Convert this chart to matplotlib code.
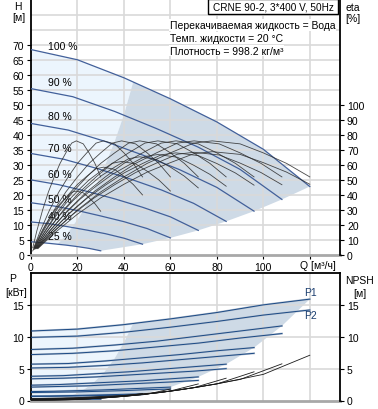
import matplotlib
matplotlib.use('Agg')
import matplotlib.pyplot as plt
from matplotlib.patches import Polygon, Rectangle

plt.rcParams['font.family'] = ['Liberation Sans', 'DejaVu Sans']
plt.rcParams['font.size'] = 7.5

# speed curves, 100 % down to 25 %
speed_labels = ['100 %', '90 %', '80 %', '70 %', '60 %', '50 %', '40 %', '25 %']
label_h = [69.7, 57.5, 46.2, 35.5, 27.0, 18.6, 12.9, 6.2]

q_curve = [
    [0, 20, 40, 60, 80, 100, 120],
    [0, 18, 36, 54, 72, 90, 108],
    [0, 16, 32, 48, 64, 80, 96],
    [0, 14, 28, 42, 56, 70, 84],
    [0, 12, 24, 36, 48, 60, 72],
    [0, 10, 20, 30, 40, 50, 60],
    [0, 8, 16, 24, 32, 40, 48],
    [0, 5, 10, 15, 20, 25, 30],
]
h_curve = [
    [68.4, 65.0, 59.0, 52.0, 44.3, 35.2, 22.8],
    [55.4, 52.7, 47.8, 42.1, 35.9, 28.5, 18.5],
    [43.8, 41.6, 37.8, 33.3, 28.4, 22.5, 14.6],
    [33.8, 31.9, 28.9, 25.5, 21.7, 17.2, 11.2],
    [25.0, 23.4, 21.2, 18.7, 15.9, 12.7, 8.2],
    [17.4, 16.3, 14.8, 13.0, 11.1, 8.8, 5.7],
    [11.0, 10.4, 9.4, 8.3, 7.1, 5.6, 3.6],
    [4.4, 4.1, 3.7, 3.3, 2.8, 2.2, 1.4],
]
p1_curve = [
    [10.9, 11.2, 11.9, 12.8, 13.8, 15.0, 15.9],
    [8.0, 8.2, 8.7, 9.3, 10.1, 10.9, 11.7],
    [5.7, 5.8, 6.2, 6.7, 7.2, 7.8, 8.3],
    [3.8, 3.9, 4.2, 4.5, 4.9, 5.3, 5.7],
    [2.4, 2.5, 2.7, 2.9, 3.1, 3.4, 3.7],
    [1.4, 1.45, 1.55, 1.65, 1.8, 1.95, 2.1],
    [0.7, 0.72, 0.77, 0.83, 0.9, 0.97, 1.05],
    [0.17, 0.18, 0.19, 0.2, 0.22, 0.24, 0.26],
]
p2_curve = [
    [9.9, 10.1, 10.7, 11.5, 12.4, 13.4, 14.2],
    [7.2, 7.4, 7.8, 8.4, 9.0, 9.8, 10.5],
    [5.1, 5.2, 5.5, 5.9, 6.4, 6.9, 7.4],
    [3.4, 3.5, 3.7, 4.0, 4.3, 4.6, 5.0],
    [2.1, 2.2, 2.3, 2.5, 2.7, 2.9, 3.15],
    [1.25, 1.3, 1.35, 1.45, 1.55, 1.7, 1.8],
    [0.63, 0.65, 0.69, 0.74, 0.8, 0.87, 0.93],
    [0.15, 0.16, 0.17, 0.18, 0.2, 0.21, 0.23],
]
npsh_curve = [
    [0.3, 0.45, 0.8, 1.45, 2.6, 4.1, 7.1],
    [0.24, 0.36, 0.65, 1.17, 2.1, 3.3, 5.75],
    [0.19, 0.29, 0.51, 0.93, 1.66, 2.6, 4.5],
    [0.15, 0.22, 0.39, 0.71, 1.27, 2.0, 3.5],
    [0.11, 0.16, 0.29, 0.52, 0.94, 1.5, 2.6],
    [0.08, 0.11, 0.2, 0.36, 0.65, 1.0, 1.8],
    [0.05, 0.07, 0.13, 0.23, 0.42, 0.66, 1.1],
    [0.02, 0.03, 0.05, 0.09, 0.16, 0.26, 0.44],
]

# efficiency curves
q_eta = [
    [3, 10, 20, 30, 40, 50, 60, 70, 78, 90, 100, 110, 120],
    [2.7, 9, 18, 27, 36, 45, 54, 63, 70.2, 81, 90, 99, 108],
    [2.4, 8, 16, 24, 32, 40, 48, 56, 62.4, 72, 80, 88, 96],
    [2.1, 7, 14, 21, 28, 35, 42, 49, 54.6, 63, 70, 77, 84],
    [1.8, 6, 12, 18, 24, 30, 36, 42, 46.8, 54, 60, 66, 72],
    [1.5, 5, 10, 15, 20, 25, 30, 35, 39, 45, 50, 55, 60],
    [1.2, 4, 8, 12, 16, 20, 24, 28, 31.2, 36, 40, 44, 48],
    [0.75, 2.5, 5, 7.5, 10, 12.5, 15, 17.5, 19.5, 22.5, 25, 27.5, 30],
]
eta_pump = [4.8, 16, 30, 42, 52, 61, 68, 74.5, 76, 74, 68, 61, 52]
eta_total = [
    [4.3, 14.5, 27.2, 38.0, 47.1, 55.2, 61.5, 67.4, 68.8, 67.0, 61.5, 55.2, 47.1],
    [4.3, 14.4, 27.0, 37.8, 46.8, 54.9, 61.2, 67.1, 68.4, 66.6, 61.2, 54.9, 46.8],
    [4.3, 14.3, 26.9, 37.6, 46.5, 54.6, 60.9, 66.7, 68.0, 66.2, 60.9, 54.6, 46.5],
    [4.2, 14.1, 26.4, 37.0, 45.8, 53.7, 59.8, 65.6, 66.9, 65.1, 59.8, 53.7, 45.8],
    [4.1, 13.8, 25.8, 36.1, 44.7, 52.5, 58.5, 64.1, 65.4, 63.6, 58.5, 52.5, 44.7],
    [3.9, 13.1, 24.6, 34.4, 42.6, 50.0, 55.8, 61.1, 62.3, 60.7, 55.8, 50.0, 42.6],
    [3.7, 12.3, 23.1, 32.3, 40.0, 47.0, 52.4, 57.4, 58.5, 57.0, 52.4, 47.0, 40.0],
    [2.7, 9.0, 16.8, 23.5, 29.1, 34.2, 38.1, 41.7, 42.6, 41.4, 38.1, 34.2, 29.1],
]

# minimum flow limit
minflow_q = [11.5, 16, 21, 26, 31, 36, 40, 44]
minflow_h = [3.6, 7.5, 12.9, 19.7, 28.1, 37.8, 46.7, 57.6]
minflow_p = [0.2, 0.6, 1.3, 2.5, 4.2, 6.6, 9.1, 12.1]

title = 'CRNE 90-2, 3*400 V, 50Hz'
info = ['Перекачиваемая жидкость = Вода', 'Темп. жидкости = 20 °C',
        'Плотность = 998.2 кг/м³']

LINE = '#42609a'
PLINE = '#1b4a85'
DARK = '#cedae6'
LIGHT = '#ecf5fd'
GRID = '#d9d9d9'
W, H = 378, 410


def regions(cq, cy, mq, my):
    top_q, top_y = cq[0], cy[0]
    low_q, low_y = cq[-1], cy[-1]
    qmin, qcorner = mq[0], mq[-1]
    dark = [(qcorner, my[-1])]
    dark += [(q, y) for q, y in zip(top_q, top_y) if q > qcorner]
    dark += [(q[-1], y[-1]) for q, y in zip(cq[1:], cy[1:])]
    dark += [(q, y) for q, y in reversed(list(zip(low_q, low_y))) if qmin < q < low_q[-1]]
    dark += list(zip(mq, my))
    light = [(q, y) for q, y in zip(top_q, top_y) if q < qcorner]
    light += list(reversed(list(zip(mq, my))))
    light += [(q, y) for q, y in reversed(list(zip(low_q, low_y))) if q < qmin]
    return dark, light


def style(a, b):
    for s in ['top', 'bottom', 'left', 'right']:
        a.spines[s].set_visible(False)
        b.spines[s].set_visible(False)
    a.spines['left'].set_visible(True)
    a.spines['left'].set_linewidth(1.3)
    b.spines['right'].set_visible(True)
    b.spines['right'].set_linewidth(1.3)
    a.spines['bottom'].set_visible(True)
    a.spines['bottom'].set_color('#a8a8a8')
    a.spines['bottom'].set_linewidth(2)
    a.tick_params(axis='y', length=3, width=0.8, pad=2, labelsize=7.5)
    b.tick_params(axis='y', length=3, width=0.8, pad=2, labelsize=7.5)


fig = plt.figure(figsize=(W / 100, H / 100), dpi=100)

# ---- head / efficiency
ax = fig.add_axes([31 / W, 1 - 256 / H, 309 / W, 255.3 / H])
ax.set_xlim(0, 133)
ax.set_ylim(0, 85)
ax2 = ax.twinx()
ax2.set_ylim(0, 170)
style(ax, ax2)

dark, light = regions(q_curve, h_curve, minflow_q, minflow_h)
ax.add_patch(Polygon(light, closed=True, fc=LIGHT, ec='none', zorder=0.5))
ax.add_patch(Polygon(dark, closed=True, fc=DARK, ec='none', zorder=0.6))
for h in range(5, 85, 5):
    ax.axhline(h, color=GRID, lw=1.2, zorder=1)
for q in range(20, 121, 20):
    ax.axvline(q, color=GRID, lw=1.2, zorder=1)

for q, h in zip(q_curve, h_curve):
    ax.plot(q, h, color=LINE, lw=0.9, zorder=3)
for lab, y in zip(speed_labels, label_h):
    ax.text(7.3, y, lab, ha='left', va='center', fontsize=7.5, zorder=4)

for q, et in zip(q_eta, eta_total):
    ax2.plot(q, eta_pump, color='#2a2a2a', lw=0.6, alpha=0.85)
    ax2.plot(q, et, color='#2a2a2a', lw=0.6, alpha=0.85)

ax.set_yticks(range(0, 71, 5))
ax.set_xticks(range(0, 121, 20))
ax.set_xticklabels(['0', '20', '40', '60', '80', '100', ''])
ax.tick_params(axis='x', length=3, width=0.8, pad=2, labelsize=7.5)
ax2.set_yticks(range(0, 101, 10))
ax.text(123.5, -3.4, 'Q [м³/ч]', ha='center', va='center', fontsize=7.5)

# ---- power / NPSH
bx = fig.add_axes([31 / W, 1 - 401.5 / H, 309 / W, 127.5 / H])
bx.set_xlim(0, 133)
bx.set_ylim(0, 20)
bx2 = bx.twinx()
bx2.set_ylim(0, 20)
style(bx, bx2)
bx.spines['top'].set_visible(True)
bx.spines['top'].set_linewidth(1.3)

dark, light = regions(q_curve, p1_curve, minflow_q, minflow_p)
bx.add_patch(Polygon(light, closed=True, fc=LIGHT, ec='none', zorder=0.5))
bx.add_patch(Polygon(dark, closed=True, fc=DARK, ec='none', zorder=0.6))
for p in (5, 10, 15):
    bx.axhline(p, color=GRID, lw=1.2, zorder=1)
for q in range(20, 121, 20):
    bx.axvline(q, color=GRID, lw=1.2, zorder=1)

for q, p1, p2 in zip(q_curve, p1_curve, p2_curve):
    for p in (p1, p2):
        bx.plot(q, p, color='#b3bfcf', lw=1.4, zorder=2.5)
        bx.plot(q, p, color=PLINE, lw=0.7, zorder=3)
for q, n in zip(q_curve, npsh_curve):
    bx2.plot(q, n, color='#1a1a1a', lw=0.6)

bx.set_yticks([0, 5, 10, 15])
bx.set_xticks([])
bx2.set_yticks([0, 5, 10, 15])
bx.text(120.4, 17.0, 'P1', ha='center', va='center', fontsize=7.5, color='#1a3d6e')
bx.text(120.4, 13.4, 'P2', ha='center', va='center', fontsize=7.5, color='#1a3d6e')


# ---- axis names and boxes
def ftext(x, y, s, **kw):
    return fig.text(x / W, 1 - y / H, s, ha='center', va='center', **kw)


ftext(18, 7, 'H', fontsize=7.5)
ftext(19, 18, '[м]', fontsize=7.5)
ftext(353, 8, 'eta', fontsize=7.5)
ftext(353, 19, '[%]', fontsize=7.5)
ftext(13, 279, 'P', fontsize=7.5)
ftext(16, 293, '[кВт]', fontsize=7.5)
ftext(360, 281, 'NPSH', fontsize=7.5)
ftext(360, 294, '[м]', fontsize=7.5)

fig.add_artist(Rectangle((208 / W, 1 - 15 / H), 130 / W, 15 / H, transform=fig.transFigure,
                         fc='white', ec='black', lw=1))
ftext(273, 8, title, fontsize=7.2)
for i, line in enumerate(info):
    fig.text(170 / W, 1 - (26 + 12.8 * i) / H, line, ha='left', va='center', fontsize=7.5,
             bbox=dict(fc='white', ec='none', pad=0.6))

fig.savefig('out.png', dpi=100)
